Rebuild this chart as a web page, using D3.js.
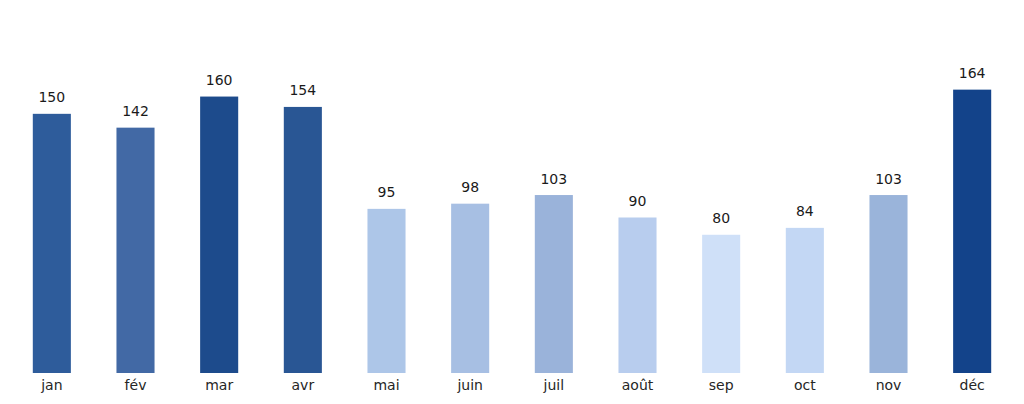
<!DOCTYPE html>
<html><head><meta charset="utf-8">
<script src="https://cdn.jsdelivr.net/npm/d3@7"></script>
<style>body{margin:0;background:#fff;}svg{display:block;}</style>
</head><body><svg id="c" width="1024" height="404"></svg>
<script>
const months = ["jan","fév","mar","avr","mai","juin","juil","août","sep","oct","nov","déc"];
const values = [150,142,160,154,95,98,103,90,80,84,103,164];
const colors = ["#2e5c9b","#4269a5","#1d4b8c","#295694","#adc6e8","#a7bfe3","#9ab3da","#b8cdee","#cfe0f8","#c3d7f4","#9ab4da","#13438a"];

const svg = d3.select("#c");
const x = d3.scaleBand().domain(months).range([10,1014]).paddingInner(0.545).paddingOuter(0.2725);
const y = d3.scaleLinear().domain([0,180]).range([373,62]);

svg.selectAll("rect.bar").data(values).join("rect").attr("class","bar")
  .attr("x",(d,i)=>x(months[i])).attr("width",x.bandwidth())
  .attr("y",d=>y(d)).attr("height",d=>y(0)-y(d))
  .attr("fill",(d,i)=>colors[i]);

svg.selectAll("text.val").data(values).join("text").attr("class","val")
  .attr("x",(d,i)=>x(months[i])+x.bandwidth()/2).attr("y",d=>y(d)-11.5)
  .attr("text-anchor","middle").attr("font-family","DejaVu Sans").attr("font-size",14)
  .attr("fill","#1a1a1a").text(d=>d);

const ax = svg.append("g").attr("transform",`translate(0,${y(0)})`)
  .call(d3.axisBottom(x).tickSize(0).tickPadding(7));
ax.select(".domain").remove();
ax.selectAll("text").attr("font-family","DejaVu Sans").attr("font-size",14).attr("fill","#262626");
</script></body></html>
